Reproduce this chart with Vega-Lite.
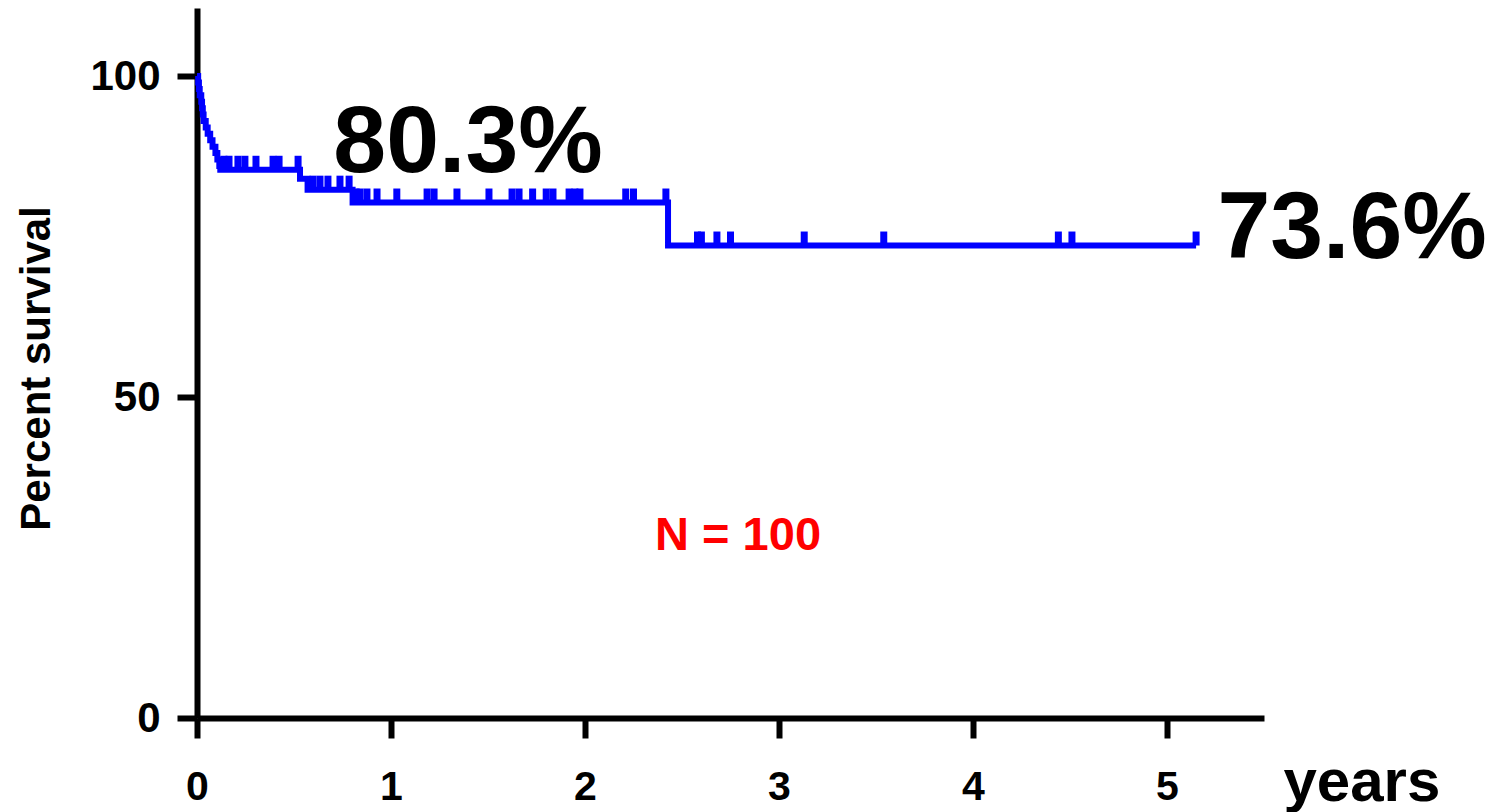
{
  "$schema": "https://vega.github.io/schema/vega-lite/v6.json",
  "width": 1067,
  "height": 710,
  "autosize": "none",
  "padding": {"left": 197, "top": 8, "right": 246, "bottom": 94},
  "background": "white",
  "config": {
    "view": {"stroke": null},
    "font": "Liberation Sans"
  },
  "datasets": {
    "curve": [
      {"t": 0, "s": 100},
      {"t": 0.006, "s": 99},
      {"t": 0.01, "s": 98},
      {"t": 0.014, "s": 97},
      {"t": 0.022, "s": 96},
      {"t": 0.026, "s": 95},
      {"t": 0.03, "s": 94},
      {"t": 0.034, "s": 93},
      {"t": 0.045, "s": 92},
      {"t": 0.055, "s": 91},
      {"t": 0.068, "s": 90},
      {"t": 0.08, "s": 89},
      {"t": 0.095, "s": 88},
      {"t": 0.105, "s": 87},
      {"t": 0.115, "s": 86},
      {"t": 0.12, "s": 85.4},
      {"t": 0.531, "s": 84.0},
      {"t": 0.57, "s": 82.3},
      {"t": 0.802, "s": 80.3},
      {"t": 2.428, "s": 73.6},
      {"t": 5.15, "s": 73.6}
    ],
    "censor": [
      {"t": 0.139, "s": 85.4},
      {"t": 0.165, "s": 85.4},
      {"t": 0.211, "s": 85.4},
      {"t": 0.247, "s": 85.4},
      {"t": 0.304, "s": 85.4},
      {"t": 0.392, "s": 85.4},
      {"t": 0.423, "s": 85.4},
      {"t": 0.521, "s": 85.4},
      {"t": 0.598, "s": 82.3},
      {"t": 0.634, "s": 82.3},
      {"t": 0.675, "s": 82.3},
      {"t": 0.737, "s": 82.3},
      {"t": 0.784, "s": 82.3},
      {"t": 0.82, "s": 80.3},
      {"t": 0.84, "s": 80.3},
      {"t": 0.876, "s": 80.3},
      {"t": 0.928, "s": 80.3},
      {"t": 1.03, "s": 80.3},
      {"t": 1.186, "s": 80.3},
      {"t": 1.222, "s": 80.3},
      {"t": 1.34, "s": 80.3},
      {"t": 1.505, "s": 80.3},
      {"t": 1.624, "s": 80.3},
      {"t": 1.66, "s": 80.3},
      {"t": 1.73, "s": 80.3},
      {"t": 1.8, "s": 80.3},
      {"t": 1.835, "s": 80.3},
      {"t": 1.918, "s": 80.3},
      {"t": 1.948, "s": 80.3},
      {"t": 1.974, "s": 80.3},
      {"t": 2.21, "s": 80.3},
      {"t": 2.25, "s": 80.3},
      {"t": 2.417, "s": 80.3},
      {"t": 2.58, "s": 73.6},
      {"t": 2.6, "s": 73.6},
      {"t": 2.68, "s": 73.6},
      {"t": 2.75, "s": 73.6},
      {"t": 3.13, "s": 73.6},
      {"t": 3.54, "s": 73.6},
      {"t": 4.44, "s": 73.6},
      {"t": 4.51, "s": 73.6},
      {"t": 5.15, "s": 73.6}
    ],
    "bigLabels": [
      {"t": 1.397, "s": 85.05, "label": "80.3%"},
      {"t": 5.954, "s": 71.65, "label": "73.6%"}
    ],
    "nLabel": [
      {"t": 2.789, "s": 26.2, "label": "N = 100"}
    ]
  },
  "layer": [
    {
      "data": {"name": "curve"},
      "mark": {"type": "line", "interpolate": "step-after", "color": "#0000FF", "strokeWidth": 6, "strokeCap": "butt", "strokeJoin": "miter"},
      "encoding": {
        "x": {
          "field": "t", "type": "quantitative",
          "scale": {"domain": [0, 5.5], "nice": false, "zero": false},
          "axis": {
            "values": [0, 1, 2, 3, 4, 5],
            "format": "d",
            "grid": false,
            "domainColor": "black", "domainWidth": 6,
            "tickColor": "black", "tickWidth": 6, "tickSize": 20,
            "labelFont": "Liberation Sans", "labelFontSize": 41, "labelFontWeight": "bold", "labelColor": "black",
            "labelPadding": 29, "labelFlush": false, "labelOverlap": false,
            "title": "years",
            "titleFont": "Liberation Sans", "titleFontSize": 60, "titleFontWeight": "bold", "titleColor": "black",
            "titleX": 1086, "titleY": 82, "titleAlign": "left", "titleBaseline": "alphabetic", "titleAnchor": null
          }
        },
        "y": {
          "field": "s", "type": "quantitative",
          "scale": {"domain": [0, 110.6], "nice": false, "zero": true},
          "axis": {
            "values": [0, 50, 100],
            "format": "d",
            "grid": false,
            "domainColor": "black", "domainWidth": 6,
            "tickColor": "black", "tickWidth": 6, "tickSize": 20,
            "labelFont": "Liberation Sans", "labelFontSize": 42, "labelFontWeight": "bold", "labelColor": "black",
            "labelPadding": 17, "labelFlush": false, "labelOverlap": false,
            "title": "Percent survival",
            "titleFont": "Liberation Sans", "titleFontSize": 42, "titleFontWeight": "bold", "titleColor": "black",
            "titleX": -148, "titleY": 360, "titleAngle": -90, "titleAlign": "center", "titleBaseline": "alphabetic"
          }
        }
      }
    },
    {
      "data": {"name": "censor"},
      "mark": {"type": "tick", "orient": "vertical", "color": "#0000FF", "thickness": 7, "size": 14, "yOffset": -7, "opacity": 1},
      "encoding": {
        "x": {"field": "t", "type": "quantitative"},
        "y": {"field": "s", "type": "quantitative"}
      }
    },
    {
      "data": {"name": "bigLabels"},
      "mark": {"type": "text", "font": "Liberation Sans", "fontWeight": "bold", "fontSize": 95, "color": "black", "align": "center", "baseline": "alphabetic"},
      "encoding": {
        "x": {"field": "t", "type": "quantitative"},
        "y": {"field": "s", "type": "quantitative"},
        "text": {"field": "label"}
      }
    },
    {
      "data": {"name": "nLabel"},
      "mark": {"type": "text", "font": "Liberation Sans", "fontWeight": "bold", "fontSize": 47, "color": "#FF0000", "align": "center", "baseline": "alphabetic"},
      "encoding": {
        "x": {"field": "t", "type": "quantitative"},
        "y": {"field": "s", "type": "quantitative"},
        "text": {"field": "label"}
      }
    }
  ]
}
